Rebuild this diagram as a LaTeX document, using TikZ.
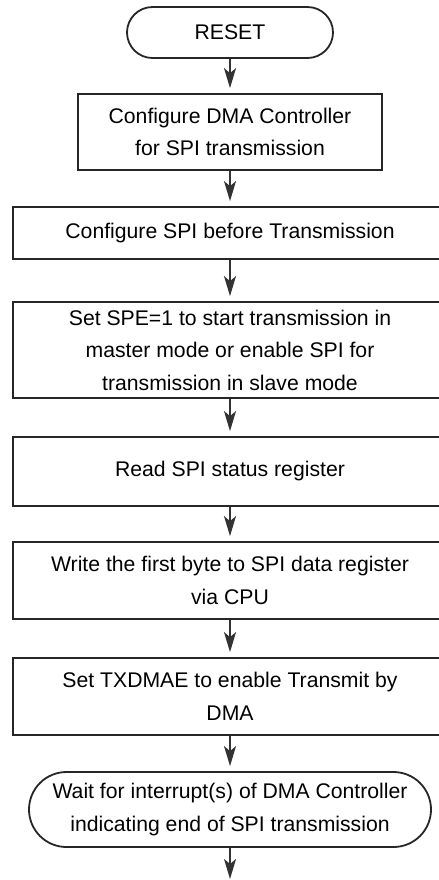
\documentclass[tikz,border=0pt]{standalone}
\usepackage{fontspec}
\setmainfont{Liberation Sans}
\usetikzlibrary{arrows.meta,shapes.misc}

\begin{document}
\begin{tikzpicture}[x=0.5pt, y=-0.5pt,
  procBox/.style ={rectangle, draw=black!85, line width=0.9pt, inner sep=0pt, align=center, font=\fontsize{10.6}{16.25}\selectfont},
  termBox/.style ={rounded rectangle, draw=black!85, line width=0.9pt, inner sep=0pt, align=center, font=\fontsize{10.6}{16.25}\selectfont},
  flowArrow/.style={draw=black!80, line width=0.9pt, -{Stealth[length=10pt,width=6pt,inset=2.5pt]}, shorten >=2.5pt},
]
\useasboundingbox (0,0) rectangle (439,880);
\clip (0,0) rectangle (439,880);

% start
\node[termBox, minimum width=103pt, minimum height=25.5pt] (reset) at (230,32.5) {RESET};

% configuration steps
\node[procBox, minimum width=152pt, minimum height=38pt] (dmaCfg) at (230,132) {Configure DMA Controller\\for SPI transmission};
\node[procBox, minimum width=217pt, minimum height=26pt] (spiCfg) at (230,233) {Configure SPI before Transmission};
\node[procBox, minimum width=217pt, minimum height=48pt] (speSet) at (230,350) {Set SPE=1 to start transmission in\\master mode or enable SPI for\\transmission in slave mode};
\node[procBox, minimum width=217pt, minimum height=34.5pt] (readStatus) at (230,471.5) {Read SPI status register};
\node[procBox, minimum width=217pt, minimum height=38.5pt] (firstByte) at (230,580.5) {Write the first byte to SPI data register\\via CPU};
\node[procBox, minimum width=217pt, minimum height=38.5pt] (txdmaeSet) at (230,696.5) {Set TXDMAE to enable Transmit by\\DMA};

% wait
\node[termBox, minimum width=201pt, minimum height=37.5pt] (dmaWait) at (230,809.5) {Wait for interrupt(s) of DMA Controller\\indicating end of SPI transmission};
\coordinate (flowEnd) at (230,884);

% connectors
\draw[flowArrow] (reset) -- (dmaCfg);
\draw[flowArrow] (dmaCfg) -- (spiCfg);
\draw[flowArrow] (spiCfg) -- (speSet);
\draw[flowArrow] (speSet) -- (readStatus);
\draw[flowArrow] (readStatus) -- (firstByte);
\draw[flowArrow] (firstByte) -- (txdmaeSet);
\draw[flowArrow] (txdmaeSet) -- (dmaWait);
\draw[flowArrow] (dmaWait) -- (flowEnd);
\end{tikzpicture}
\end{document}
